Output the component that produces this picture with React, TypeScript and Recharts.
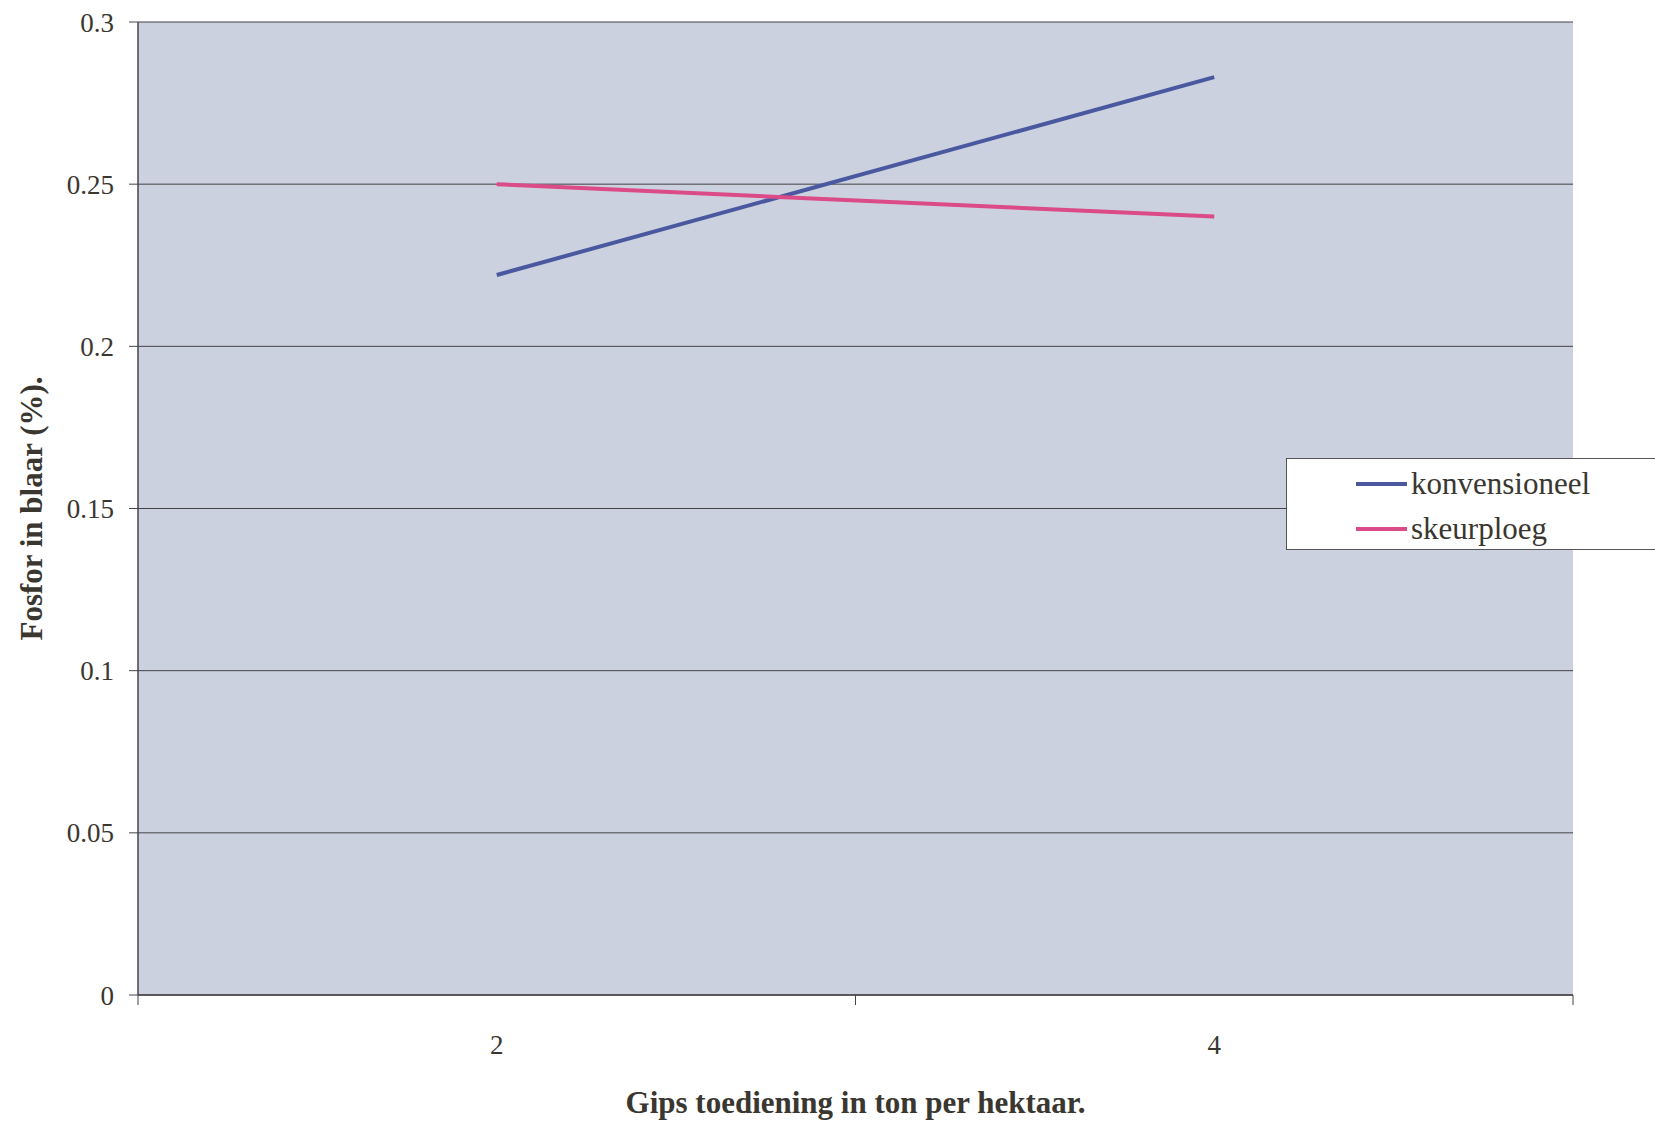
import { LineChart, Line, XAxis, YAxis, CartesianGrid, Legend } from 'recharts'

// gips dose (ton/ha)
const doses = [2, 4]
const konvensioneel = [0.222, 0.283]
const skeurploeg = [0.25, 0.24]

// x axis: category centres at even values, boundaries at odd ones
const xTicks = [1, 2, 3, 4, 5]
const yTicks = [0, 0.05, 0.1, 0.15, 0.2, 0.25, 0.3]

const data = doses.map((d, i) => ({
  dose: d,
  konvensioneel: konvensioneel[i],
  skeurploeg: skeurploeg[i],
}))

const FONT = '"Liberation Serif", "Times New Roman", serif'
const TEXT = '#3a3630'

const XTick = (props: any) => {
  const { x, y, payload } = props
  const v = payload.value
  if (v % 2 === 1) {
    return <line x1={x} y1={y} x2={x} y2={y + 10} stroke="#444" strokeWidth={1} />
  }
  return (
    <text x={x} y={y + 50} textAnchor="middle" dominantBaseline="central" fontFamily={FONT} fontSize={27} fill={TEXT}>
      {v}
    </text>
  )
}

const LegendBox = (props: any) => {
  const { payload } = props
  return (
    <div
      style={{
        width: 380,
        height: 92,
        background: '#fff',
        border: '1px solid #555',
        boxSizing: 'border-box',
        paddingTop: 2,
        fontFamily: FONT,
        fontSize: 31,
        color: TEXT,
      }}
    >
      {payload.map((p: any) => (
        <div key={p.value} style={{ display: 'flex', alignItems: 'center', height: 45, paddingLeft: 69 }}>
          <span style={{ display: 'inline-block', width: 51, height: 4, background: p.color, marginRight: 4 }} />
          <span>{p.value}</span>
        </div>
      ))}
    </div>
  )
}

export default function App() {
  return (
    <div style={{ position: 'absolute', left: 0, top: 0, width: 1655, height: 1122, overflow: 'hidden', background: '#fff' }}>
      <LineChart width={1655} height={1122} data={data} margin={{ top: 22, right: 82, left: 0, bottom: 0 }}>
        <CartesianGrid vertical={false} stroke="#444" strokeOpacity={1} fill="#ccd1df" fillOpacity={1} />
        <XAxis
          dataKey="dose"
          type="number"
          domain={[1, 5]}
          ticks={xTicks}
          interval={0}
          height={127}
          tick={<XTick />}
          tickLine={false}
          tickSize={0}
          tickMargin={0}
          axisLine={{ stroke: '#444', strokeWidth: 1.5 }}
          label={{
            value: 'Gips toediening in ton per hektaar.',
            position: 'center',
            dy: 43,
            style: { fontFamily: FONT, fontSize: 31, fontWeight: 'bold', fill: TEXT },
          }}
        />
        <YAxis
          type="number"
          domain={[0, 0.3]}
          ticks={yTicks}
          interval={0}
          width={138}
          tickSize={9}
          tickMargin={15}
          tickFormatter={(v: number) => String(v)}
          tick={{ fontFamily: FONT, fontSize: 27, fill: TEXT }}
          tickLine={{ stroke: '#444' }}
          axisLine={{ stroke: '#444', strokeWidth: 1.5 }}
          label={{
            value: 'Fosfor in blaar (%).',
            angle: -90,
            position: 'center',
            dx: -38,
            style: { fontFamily: FONT, fontSize: 31, fontWeight: 'bold', fill: TEXT, textAnchor: 'middle' },
          }}
        />
        <Legend
          layout="horizontal"
          align="center"
          verticalAlign="middle"
          content={<LegendBox />}
          wrapperStyle={{ position: 'absolute', left: 1286, top: 458, width: 380, height: 92 }}
        />
        <Line
          dataKey="konvensioneel"
          name="konvensioneel"
          stroke="#4a599f"
          strokeWidth={4}
          dot={false}
          isAnimationActive={false}
        />
        <Line
          dataKey="skeurploeg"
          name="skeurploeg"
          stroke="#db4b87"
          strokeWidth={4}
          dot={false}
          isAnimationActive={false}
        />
      </LineChart>
    </div>
  )
}
